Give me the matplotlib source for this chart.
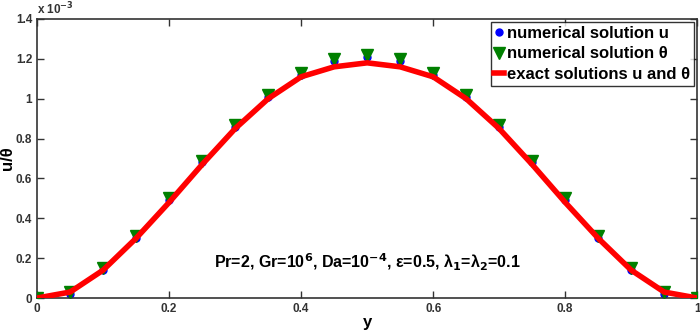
import matplotlib
matplotlib.use("Agg")
import matplotlib.pyplot as plt
from matplotlib.ticker import FixedLocator, FixedFormatter

plt.rcParams['font.family'] = ['Liberation Sans', 'DejaVu Sans']
plt.rcParams['font.weight'] = 'bold'

# data (values in units of 1e-3)
y_pts = [0.0, 0.05, 0.1, 0.15, 0.2, 0.25, 0.3, 0.35, 0.4, 0.45, 0.5,
         0.55, 0.6, 0.65, 0.7, 0.75, 0.8, 0.85, 0.9, 0.95, 1.0]
u_num = [0.0, 0.02, 0.14, 0.30, 0.49, 0.68, 0.86, 1.01, 1.12, 1.19, 1.21,
         1.19, 1.12, 1.01, 0.86, 0.68, 0.49, 0.30, 0.14, 0.02, 0.0]
theta_num = [0.0, 0.03, 0.15, 0.31, 0.50, 0.69, 0.87, 1.02, 1.13, 1.20, 1.22,
             1.20, 1.13, 1.02, 0.87, 0.69, 0.50, 0.31, 0.15, 0.03, 0.0]
exact = [0.0, 0.03, 0.14, 0.30, 0.48, 0.67, 0.85, 1.00, 1.11, 1.16, 1.18,
         1.16, 1.11, 1.00, 0.85, 0.67, 0.48, 0.30, 0.14, 0.03, 0.0]

xticks = [0, 0.2, 0.4, 0.6, 0.8, 1.0]
xticklabels = ['0', '0.2', '0.4', '0.6', '0.8', '1']
yticks = [0, 0.2, 0.4, 0.6, 0.8, 1.0, 1.2, 1.4]
yticklabels = ['0', '0.2', '0.4', '0.6', '0.8', '1', '1.2', '1.4']

fig = plt.figure(figsize=(7.0, 3.33), dpi=100)
ax = fig.add_axes([0.053, 0.105, 0.943, 0.838])

ax.plot(y_pts, u_num, linestyle='none', marker='o', color='blue', markersize=5,
        label='numerical solution u', zorder=2)
ax.plot(y_pts, theta_num, linestyle='none', marker='v', color='green', markersize=8,
        label='numerical solution θ', zorder=3)
ax.plot(y_pts, exact, color='red', linewidth=4, label='exact solutions u and θ', zorder=4)

ax.set_xlim(0, 1)
ax.set_ylim(0, 1.4)
ax.xaxis.set_major_locator(FixedLocator(xticks))
ax.xaxis.set_major_formatter(FixedFormatter(xticklabels))
ax.yaxis.set_major_locator(FixedLocator(yticks))
ax.yaxis.set_major_formatter(FixedFormatter(yticklabels))
ax.tick_params(direction='in', top=True, right=True, length=5, width=1,
               labelsize=8.5, colors='#333333', labelcolor='#333333')
for lab in ax.get_xticklabels() + ax.get_yticklabels():
    lab.set_fontweight('bold')
for s in ax.spines.values():
    s.set_color('#333333')
    s.set_linewidth(1.2)

ax.set_xlabel('y', fontsize=12, fontweight='bold', labelpad=0)
ax.set_ylabel('u/θ', fontsize=12, fontweight='bold')
ax.yaxis.set_label_coords(-0.034, 0.5)
ax.text(0.0, 1.005, r'x 10$^{-3}$', transform=ax.transAxes, fontsize=8.5,
        fontweight='bold', color='#333333', ha='left', va='bottom')

ax.text(0.5, 0.18,
        r'Pr=2, Gr=10$^{6}$, Da=10$^{-4}$, ε=0.5, λ$_{1}$=λ$_{2}$=0.1',
        fontsize=11.5, fontweight='bold', ha='center', va='center')

leg = ax.legend(loc='upper right', frameon=True, fancybox=False,
                edgecolor='black', borderpad=0.2, handlelength=0.6,
                handletextpad=0.2, labelspacing=0.35, borderaxespad=0.2,
                prop={'weight': 'bold', 'size': 12})
leg.get_frame().set_linewidth(1.0)

fig.savefig('out.png', dpi=100)
